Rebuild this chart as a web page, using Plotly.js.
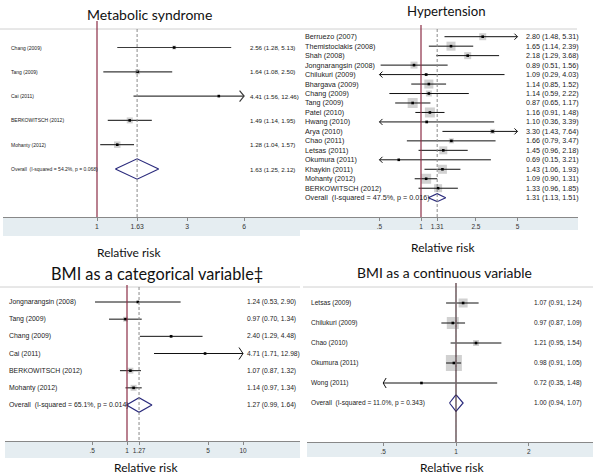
<!DOCTYPE html>
<html><head><meta charset="utf-8">
<script src="https://cdn.plot.ly/plotly-3.0.1.min.js"></script>
<style>html,body{margin:0;padding:0;background:#fff}#chart{width:600px;height:475px}</style>
</head><body><div id="chart"></div>
<script>
// ================= DATA =================
// Metabolic syndrome
const msStudies = ["Chang (2009)","Tang (2009)","Cai (2011)","BERKOWITSCH (2012)","Mohanty (2012)"];
const msRR = [2.56,1.64,4.41,1.49,1.28];
const msLo = [1.28,1.08,1.56,1.14,1.04];
const msHi = [5.13,2.50,12.46,1.95,1.57];
const msWeight = [13,20,2,30,35];
const msOverall = [1.63,1.25,2.12];
const msHet = ["54.2%","0.068"];
const msTicks = [1,1.63,3,6];
const msTickText = ["1","1.63","3","6"];

// Hypertension
const htStudies = ["Berruezo (2007)","Themistoclakis (2008)","Shah (2008)","Jongnarangsin (2008)","Chilukuri (2009)","Bhargava (2009)","Chang (2009)","Tang (2009)","Patel (2010)","Hwang (2010)","Arya (2010)","Chao (2011)","Letsas (2011)","Okumura (2011)","Khaykin (2011)","Mohanty (2012)","BERKOWITSCH (2012)"];
const htRR = [2.80,1.65,2.18,0.89,1.09,1.14,1.14,0.87,1.16,1.10,3.30,1.66,1.45,0.69,1.43,1.09,1.33];
const htLo = [1.48,1.14,1.29,0.51,0.29,0.85,0.59,0.65,0.91,0.36,1.43,0.79,0.96,0.15,1.06,0.90,0.96];
const htHi = [5.31,2.39,3.68,1.56,4.03,1.52,2.22,1.17,1.48,3.39,7.64,3.47,2.18,3.21,1.93,1.31,1.85];
const htWeight = [5.3,8.8,5.3,5.3,1.0,8.8,3.9,10.8,10.8,1.0,2.7,2.7,6.9,0.1,8.8,10.8,6.9];
const htOverall = [1.31,1.13,1.51];
const htHet = ["47.5%","0.016"];
const htTicks = [0.5,1,1.31,2.5,5];
const htTickText = [".5","1","1.31","2.5","5"];

// BMI as a categorical variable
const bcStudies = ["Jongnarangsin (2008)","Tang (2009)","Chang (2009)","Cai (2011)","BERKOWITSCH (2012)","Mohanty (2012)"];
const bcRR = [1.24,0.97,2.40,4.71,1.07,1.14];
const bcLo = [0.53,0.70,1.29,1.71,0.87,0.97];
const bcHi = [2.90,1.34,4.48,12.98,1.32,1.34];
const bcWeight = [4,22,8,1,32,33];
const bcOverall = [1.27,0.99,1.64];
const bcHet = ["65.1%","0.014"];
const bcTicks = [0.5,1,1.27,5,10];
const bcTickText = [".5","1","1.27","5","10"];

// BMI as a continuous variable
const bnStudies = ["Letsas (2009)","Chilukuri (2009)","Chao (2010)","Okumura (2011)","Wong (2011)"];
const bnRR = [1.07,0.97,1.21,0.98,0.72];
const bnLo = [0.91,0.87,0.95,0.91,0.35];
const bnHi = [1.24,1.09,1.54,1.05,1.48];
const bnWeight = [15.6,27.8,6.9,49.4,0.3];
const bnOverall = [1.00,0.94,1.07];
const bnHet = ["11.0%","0.343"];
const bnTicks = [0.5,1,2];
const bnTickText = [".5","1","2"];

// ================= LAYOUT / STYLE =================
const W = 600, H = 475;
const SANS = "Liberation Sans, Arial, sans-serif";
const TITLE = "Lato, Open Sans, sans-serif";
const RED = "#8b2d45", NAVY = "#2a2a7c", BOX = "#bdbdbd", BAND = "#e5edf1";

const panels = [
  {studies:msStudies, rr:msRR, lo:msLo, hi:msHi, w:msWeight, ov:msOverall, het:msHet, ticks:msTicks, tickText:msTickText,
   title:"Metabolic syndrome", titleSize:14, titlePos:[149.5,14], rrPos:[129,252], nullColor:RED,
   xPx:[3,300], x1:97, ppd:189, yTop:21, yAxis:217, row0:47.5, rowPx:24.3, topLine:[0,300,29], band:[3,300,236],
   clip:[1,6], maxBox:6.5, arrow:[4.5,5.5], lblX:9, esX:248, lblFont:{family:SANS,size:5},
   esFont:{family:SANS,size:6.2}, tickFont:{family:SANS,size:6.8}, ciColor:"#3a3a3a", ciW:1.2},
  {studies:htStudies, rr:htRR, lo:htLo, hi:htHi, w:htWeight, ov:htOverall, het:htHet, ticks:htTicks, tickText:htTickText,
   title:"Hypertension", titleSize:13.2, titlePos:[446,11], rrPos:[443,247], nullColor:RED,
   xPx:[300,578], x1:421, ppd:138, yTop:25, yAxis:217, row0:36.7, rowPx:9.47, topLine:[300,577,29], band:[300,578,230],
   clip:[0.5,5], maxBox:10, arrow:[3,3], lblX:303, esX:524, lblFont:{family:SANS,size:7.2},
   esFont:{family:SANS,size:7.2}, tickFont:{family:SANS,size:6.5}, ciColor:"#111", ciW:1},
  {studies:bcStudies, rr:bcRR, lo:bcLo, hi:bcHi, w:bcWeight, ov:bcOverall, het:bcHet, ticks:bcTicks, tickText:bcTickText,
   title:"BMI as a categorical variable\u2021", titleSize:16.3, titlePos:[157,273], rrPos:[146,467], nullColor:RED,
   xPx:[5,300], x1:127, ppd:116, yTop:285, yAxis:441, row0:302, rowPx:17.17, topLine:[0,300,287], band:[5,300,458],
   clip:[0.5,10], maxBox:6, arrow:[4,6], lblX:7, esX:245, lblFont:{family:SANS,size:6.9},
   esFont:{family:SANS,size:6.7}, tickFont:{family:SANS,size:6.5}, ciColor:"#111", ciW:1},
  {studies:bnStudies, rr:bnRR, lo:bnLo, hi:bnHi, w:bnWeight, ov:bnOverall, het:bnHet, ticks:bnTicks, tickText:bnTickText,
   title:"BMI as a continuous variable", titleSize:13.9, titlePos:[444,272], rrPos:[452,467], nullColor:"#4a2a32",
   xPx:[307,593], x1:456, ppd:242, yTop:283, yAxis:442, row0:303, rowPx:20, topLine:[303,593,287], band:[307,593,457],
   clip:[0.5,2], maxBox:16, arrow:[3,5], lblX:309, esX:532, lblFont:{family:SANS,size:6.6},
   esFont:{family:SANS,size:6.5}, tickFont:{family:SANS,size:6.5}, ciColor:"#111", ciW:1}
];

const fmt = v => v.toFixed(2);
const traces = [], annotations = [], shapes = [];
const layout = {width:W, height:H, margin:{l:0,r:0,t:0,b:0}, showlegend:false,
  paper_bgcolor:"#fff", plot_bgcolor:"rgba(0,0,0,0)"};

panels.forEach((p, k) => {
  const id = k === 0 ? "" : String(k+1);
  const xa = "x"+id, ya = "y"+id;
  const n = p.studies.length;
  const rows = p.studies.map((_, i) => i);
  const yBot = (p.yAxis - p.row0)/p.rowPx;
  const yTopV = (p.yTop - p.row0)/p.rowPx;
  const yDash = (p.topLine[2] - p.row0)/p.rowPx;

  layout["xaxis"+id] = {type:"log", domain:[p.xPx[0]/W, p.xPx[1]/W], anchor:ya,
    range:[(p.xPx[0]-p.x1)/p.ppd, (p.xPx[1]-p.x1)/p.ppd],
    tickmode:"array", tickvals:p.ticks, ticktext:p.tickText, tickfont:Object.assign({color:"#333"}, p.tickFont),
    ticks:"outside", ticklen:3, tickcolor:"#888", showline:true, linecolor:"#888", linewidth:1,
    showgrid:false, zeroline:false, fixedrange:true};
  layout["yaxis"+id] = {domain:[1-p.yAxis/H, 1-p.yTop/H], range:[yBot, yTopV], visible:false,
    showgrid:false, zeroline:false, fixedrange:true, anchor:xa};

  shapes.push({type:"rect", xref:"paper", yref:"paper", x0:p.band[0]/W, x1:p.band[1]/W,
    y0:1-p.band[2]/H, y1:1-p.yAxis/H, fillcolor:BAND, line:{width:0}, layer:"below"});
  shapes.push({type:"line", xref:"paper", yref:"paper", x0:p.topLine[0]/W, x1:p.topLine[1]/W,
    y0:1-p.topLine[2]/H, y1:1-p.topLine[2]/H, line:{color:"#d0d0d0", width:1}, layer:"below"});

  const dh = 0.42;
  traces.push({type:"scatter", mode:"lines", xaxis:xa, yaxis:ya, hoverinfo:"skip",
    x:[p.ov[1], p.ov[0], p.ov[2], p.ov[0], p.ov[1]], y:[n, n-dh, n, n+dh, n],
    fill:"toself", fillcolor:"#fff", line:{color:NAVY, width:1.2}});

  const maxW = Math.max(...p.w);
  traces.push({type:"scatter", mode:"markers", xaxis:xa, yaxis:ya, hoverinfo:"skip",
    x:p.rr, y:rows, marker:{symbol:"square", color:BOX, size:p.w.map(v => p.maxBox*Math.sqrt(v/maxW)), line:{width:0}}});

  const cx = [], cy = [];
  p.studies.forEach((_, i) => {
    cx.push(Math.max(p.lo[i], p.clip[0]), Math.min(p.hi[i], p.clip[1]), null);
    cy.push(i, i, null);
  });
  traces.push({type:"scatter", mode:"lines", xaxis:xa, yaxis:ya, hoverinfo:"skip",
    x:cx, y:cy, line:{color:p.ciColor, width:p.ciW}});

  const ax = [], ay = [];
  const dxr = Math.pow(10, p.arrow[0]/p.ppd), dy = p.arrow[1]/p.rowPx;
  p.studies.forEach((_, i) => {
    if (p.hi[i] > p.clip[1]) { const t = p.clip[1]; ax.push(t/dxr, t, t/dxr, null); ay.push(i-dy, i, i+dy, null); }
    if (p.lo[i] < p.clip[0]) { const t = p.clip[0]; ax.push(t*dxr, t, t*dxr, null); ay.push(i-dy, i, i+dy, null); }
  });
  if (ax.length) traces.push({type:"scatter", mode:"lines", xaxis:xa, yaxis:ya, hoverinfo:"skip",
    x:ax, y:ay, line:{color:p.ciColor, width:p.ciW}});

  traces.push({type:"scatter", mode:"markers", xaxis:xa, yaxis:ya, hoverinfo:"skip",
    x:p.rr, y:rows, marker:{symbol:"square", color:"#000", size:2.6}});

  traces.push({type:"scatter", mode:"lines", xaxis:xa, yaxis:ya, hoverinfo:"skip",
    x:[1,1], y:[yTopV, yBot], line:{color:p.nullColor, width:1.2}});
  traces.push({type:"scatter", mode:"lines", xaxis:xa, yaxis:ya, hoverinfo:"skip",
    x:[p.ov[0], p.ov[0]], y:[yDash, yBot], line:{color:"#8a8a8a", width:1, dash:"3px,2px"}});

  p.studies.forEach((s, i) => {
    annotations.push({xref:"paper", yref:ya, x:p.lblX/W, y:i, text:s, showarrow:false,
      xanchor:"left", yanchor:"middle", font:Object.assign({color:"#222"}, p.lblFont)});
    annotations.push({xref:"paper", yref:ya, x:p.esX/W, y:i, text:`${fmt(p.rr[i])} (${fmt(p.lo[i])}, ${fmt(p.hi[i])})`,
      showarrow:false, xanchor:"left", yanchor:"middle", font:Object.assign({color:"#222"}, p.esFont)});
  });
  annotations.push({xref:"paper", yref:ya, x:p.lblX/W, y:n, text:`Overall  (I-squared = ${p.het[0]}, p = ${p.het[1]})`,
    showarrow:false, xanchor:"left", yanchor:"middle", font:Object.assign({color:"#222"}, p.lblFont)});
  annotations.push({xref:"paper", yref:ya, x:p.esX/W, y:n, text:`${fmt(p.ov[0])} (${fmt(p.ov[1])}, ${fmt(p.ov[2])})`,
    showarrow:false, xanchor:"left", yanchor:"middle", font:Object.assign({color:"#222"}, p.esFont)});

  annotations.push({xref:"paper", yref:"paper", x:p.titlePos[0]/W, y:1-p.titlePos[1]/H, text:p.title,
    showarrow:false, xanchor:"center", yanchor:"middle", font:{family:TITLE, size:p.titleSize, color:"#111"}});
  annotations.push({xref:"paper", yref:"paper", x:p.rrPos[0]/W, y:1-p.rrPos[1]/H, text:"Relative risk",
    showarrow:false, xanchor:"center", yanchor:"middle", font:{family:TITLE, size:12, color:"#111"}});
});

layout.annotations = annotations;
layout.shapes = shapes;
Plotly.newPlot("chart", traces, layout, {staticPlot:true, displayModeBar:false});
</script></body></html>
